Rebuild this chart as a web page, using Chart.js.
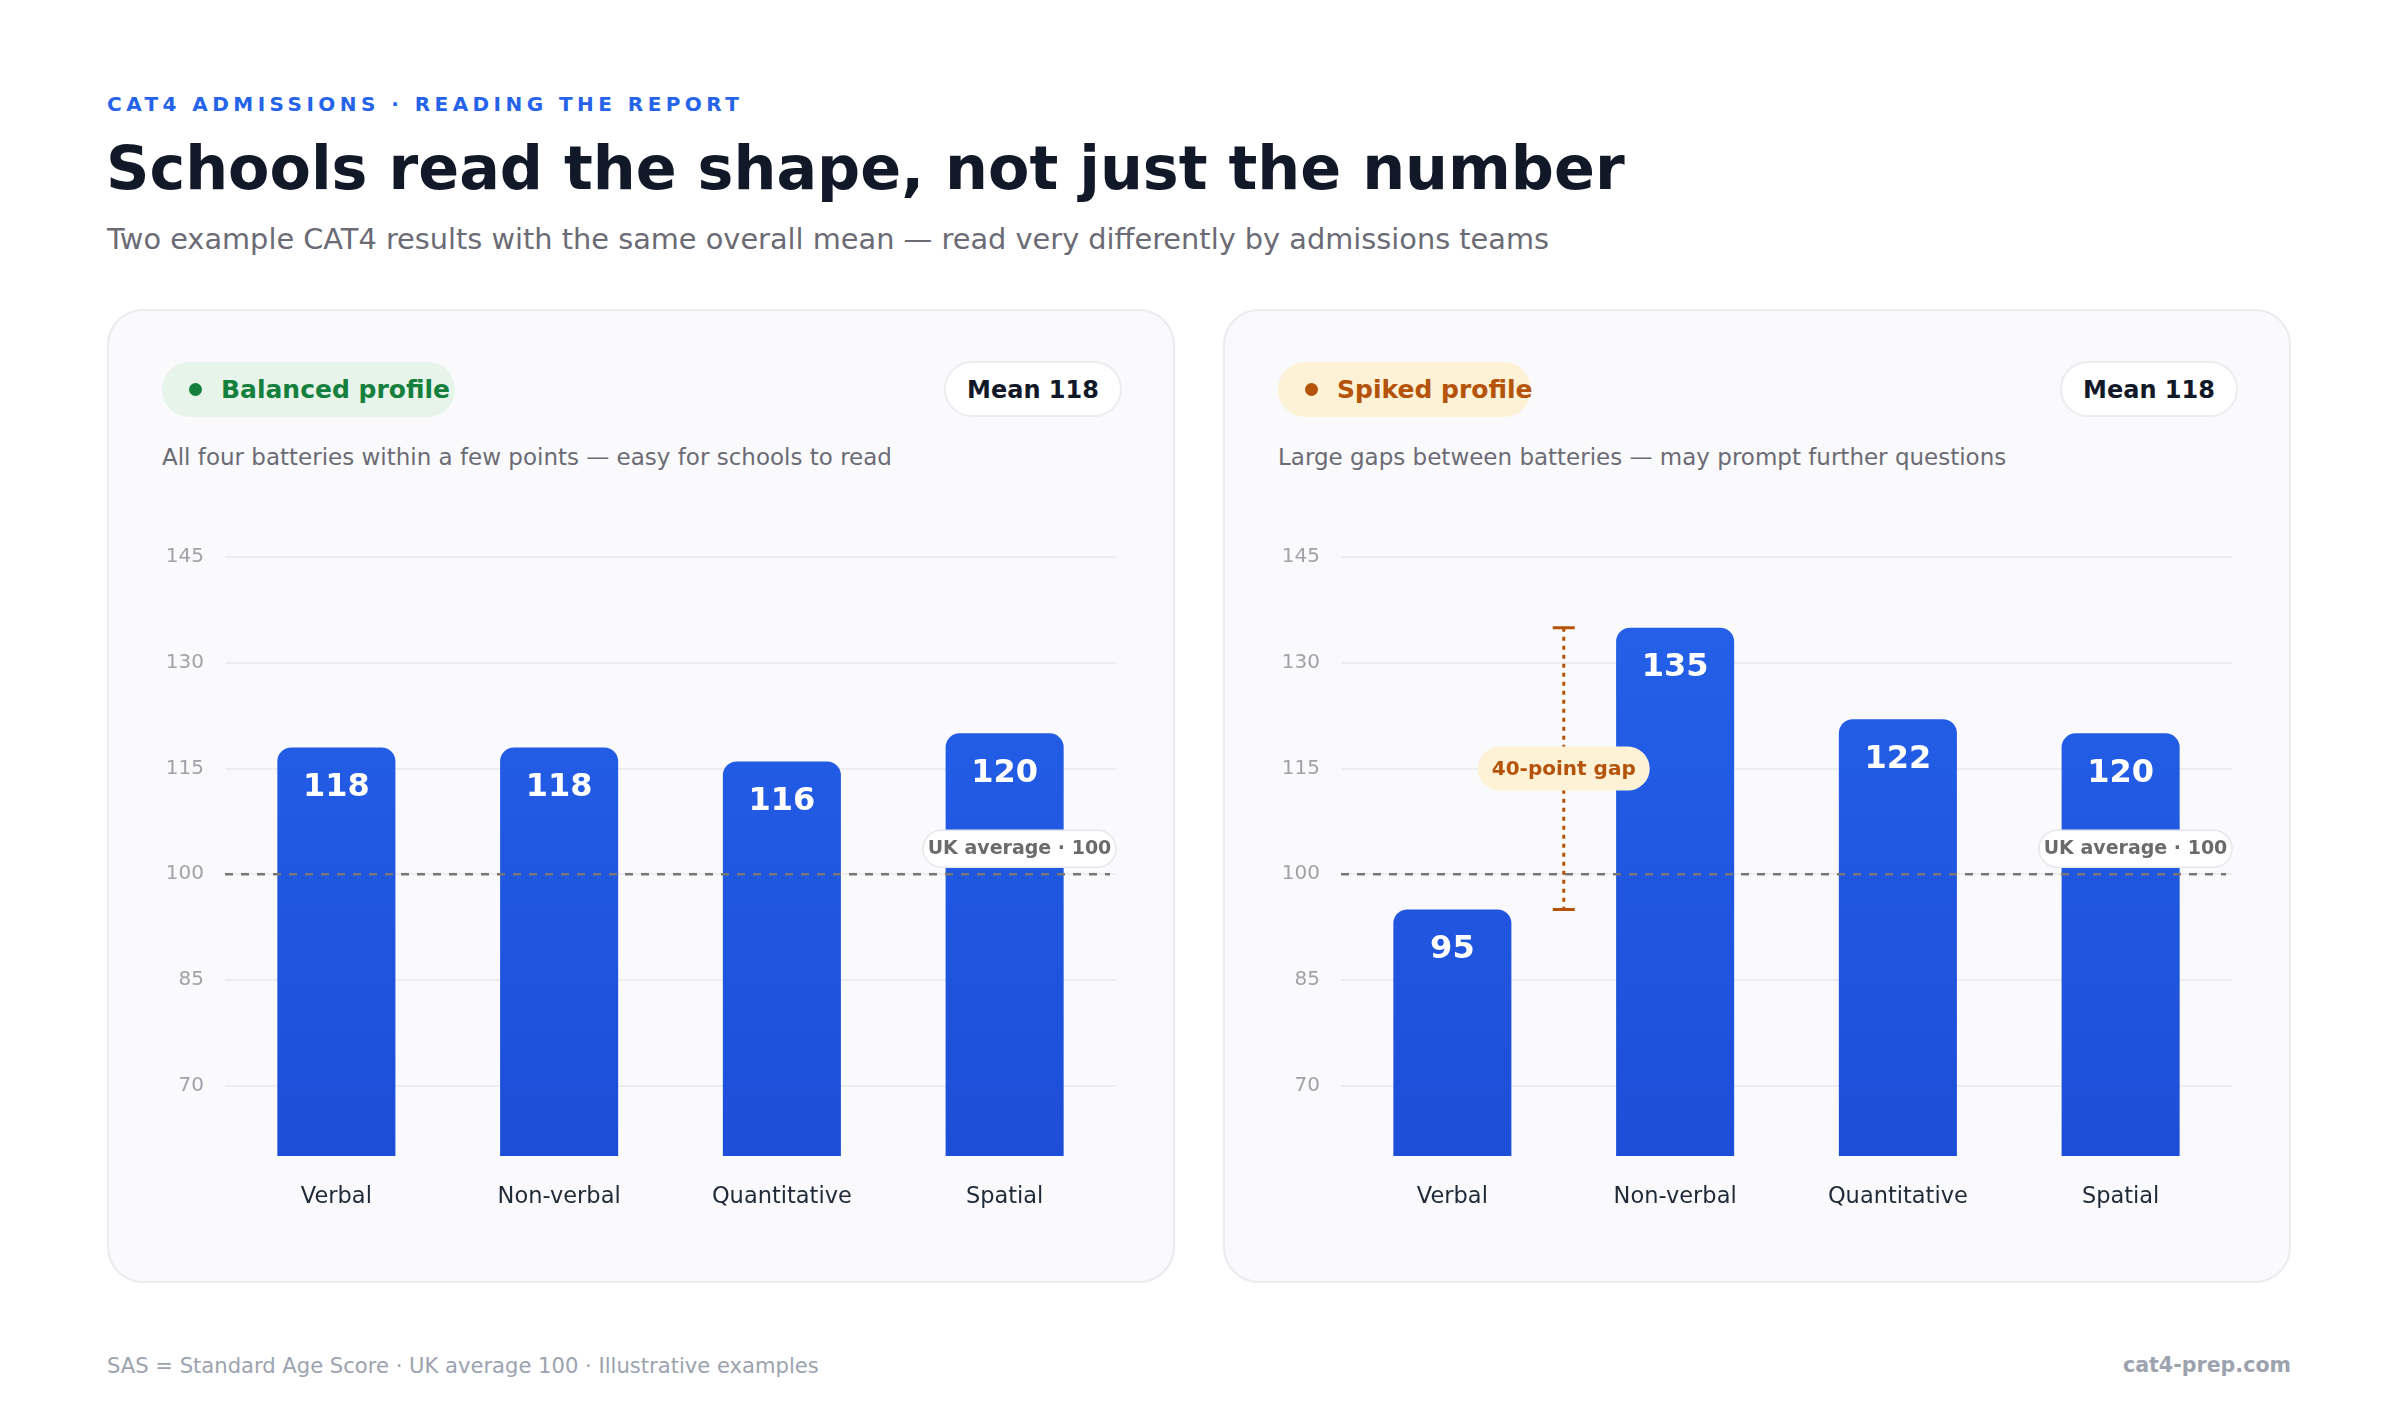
<!DOCTYPE html>
<html>
<head>
<meta charset="utf-8">
<script src="https://cdn.jsdelivr.net/npm/chart.js@4.4.1/dist/chart.umd.min.js"></script>
<style>
  body { margin: 0; width: 2400px; height: 1425px; background: #fff; font-family: "DejaVu Sans", sans-serif; position: relative; overflow: hidden; }
  .abs { position: absolute; line-height: 1; white-space: nowrap; }
  .kicker { left: 107px; top: 94px; font-size: 20px; font-weight: bold; color: #2563eb; letter-spacing: 4.45px; }
  .title { left: 106px; top: 138px; font-size: 60.3px; font-weight: bold; color: #111827; }
  .sub { left: 107px; top: 225px; font-size: 28.8px; color: #6b6b75; }
  .card { position: absolute; top: 309px; width: 1064px; height: 970px; background: #fafafc; border: 2px solid #ebebf0; border-radius: 36px; }
  .pill { position: absolute; left: 53px; top: 51px; height: 55px; border-radius: 28px; font-size: 25px; font-weight: bold; line-height: 55px; white-space: nowrap; }
  .pill .dot { position: absolute; left: 27px; top: 21px; width: 13px; height: 13px; border-radius: 50%; }
  .pill .txt { position: absolute; left: 59px; top: 0; }
  .mean { position: absolute; left: 835px; top: 50px; width: 174px; height: 52px; border: 2px solid #ececf1; background: #fff; border-radius: 28px; font-size: 24px; font-weight: bold; color: #111827; line-height: 54px; text-align: center; }
  .desc { position: absolute; left: 53px; top: 135px; font-size: 23px; color: #6b6b75; line-height: 1; white-space: nowrap; }
  .card canvas { position: absolute; left: 53px; top: 178px; }
  .foot { top: 1355px; font-size: 21.1px; color: #9ca3af; }
</style>
</head>
<body>
<div class="abs kicker">CAT4 ADMISSIONS · READING THE REPORT</div>
<div class="abs title">Schools read the shape, not just the number</div>
<div class="abs sub">Two example CAT4 results with the same overall mean — read very differently by admissions teams</div>

<div class="card" style="left:107px">
  <div class="pill" style="width:293px;background:#e6f4ea;color:#15803d"><span class="dot" style="background:#15803d"></span><span class="txt">Balanced profile</span></div>
  <div class="mean">Mean 118</div>
  <div class="desc">All four batteries within a few points — easy for schools to read</div>
  <canvas id="balanced" width="958" height="742"></canvas>
</div>

<div class="card" style="left:1223px">
  <div class="pill" style="width:253px;background:#fdf2d6;color:#b45309"><span class="dot" style="background:#b45309"></span><span class="txt">Spiked profile</span></div>
  <div class="mean">Mean 118</div>
  <div class="desc">Large gaps between batteries — may prompt further questions</div>
  <canvas id="spiked" width="958" height="742"></canvas>
</div>

<div class="abs foot" style="left:107px">SAS = Standard Age Score · UK average 100 · Illustrative examples</div>
<div class="abs foot" style="right:109px;font-weight:bold;font-size:20.6px">cat4-prep.com</div>

<script>
const categories = ['Verbal', 'Non-verbal', 'Quantitative', 'Spatial'];
const balancedScores = [118, 118, 116, 120];
const spikedScores = [95, 135, 122, 120];
const yTicks = [70, 85, 100, 115, 130, 145];
const ukAverage = 100;
const gapFrom = 0, gapTo = 1; // Verbal vs Non-verbal

const FONT = '"DejaVu Sans", sans-serif';

function pill(ctx, x, y, w, h, fill, stroke) {
  ctx.beginPath();
  ctx.roundRect(x, y, w, h, h / 2);
  ctx.fillStyle = fill;
  ctx.fill();
  if (stroke) {
    ctx.strokeStyle = stroke;
    ctx.lineWidth = 1.5;
    ctx.stroke();
  }
}

// bar values, UK average line and the gap marker
const overlays = {
  id: 'overlays',
  afterDatasetsDraw(chart, args, opts) {
    const ctx = chart.ctx;
    const area = chart.chartArea;
    const x = chart.scales.x, y = chart.scales.y;
    const data = chart.data.datasets[0].data;

    ctx.save();
    // value labels
    ctx.fillStyle = '#fff';
    ctx.font = 'bold 32px ' + FONT;
    ctx.textAlign = 'center';
    ctx.textBaseline = 'middle';
    chart.getDatasetMeta(0).data.forEach((bar, i) => {
      ctx.fillText(String(data[i]), bar.x, bar.y + 40);
    });

    // UK average
    const yAvg = y.getPixelForValue(ukAverage);
    ctx.setLineDash([8, 8]);
    ctx.strokeStyle = '#777';
    ctx.lineWidth = 2.5;
    ctx.beginPath();
    ctx.moveTo(area.left, yAvg);
    ctx.lineTo(area.right - 6, yAvg);
    ctx.stroke();
    ctx.setLineDash([]);
    pill(ctx, area.right - 193, yAvg - 44, 193, 37, '#fff', '#e5e7eb');
    ctx.fillStyle = '#6b6b6b';
    ctx.font = 'bold 19px ' + FONT;
    ctx.fillText('UK average · 100', area.right - 96.5, yAvg - 25);

    if (opts.gap) {
      const gx = (x.getPixelForValue(gapFrom) + x.getPixelForValue(gapTo)) / 2;
      const hi = Math.max(data[gapFrom], data[gapTo]);
      const lo = Math.min(data[gapFrom], data[gapTo]);
      const yTop = y.getPixelForValue(hi), yBot = y.getPixelForValue(lo);
      ctx.strokeStyle = '#b45309';
      ctx.lineWidth = 3;
      ctx.setLineDash([4, 5]);
      ctx.beginPath();
      ctx.moveTo(gx, yTop);
      ctx.lineTo(gx, yBot);
      ctx.stroke();
      ctx.setLineDash([]);
      ctx.beginPath();
      ctx.moveTo(gx - 11, yTop); ctx.lineTo(gx + 11, yTop);
      ctx.moveTo(gx - 11, yBot); ctx.lineTo(gx + 11, yBot);
      ctx.stroke();
      const ym = y.getPixelForValue((hi + lo) / 2);
      pill(ctx, gx - 86, ym - 22, 172, 44, '#fdf2d6');
      ctx.fillStyle = '#b45309';
      ctx.font = 'bold 20px ' + FONT;
      ctx.fillText((hi - lo) + '-point gap', gx, ym + 1);
    }
    ctx.restore();
  }
};

function barGradient(c) {
  const chart = c.chart;
  const a = chart.chartArea;
  if (!a) return '#2563eb';
  const g = chart.ctx.createLinearGradient(0, a.top, 0, a.bottom);
  g.addColorStop(0, '#2563eb');
  g.addColorStop(1, '#1d4ed8');
  return g;
}

function makeChart(id, scores, gap) {
  return new Chart(document.getElementById(id), {
    type: 'bar',
    data: {
      labels: categories,
      datasets: [{
        data: scores,
        backgroundColor: barGradient,
        borderRadius: 14,
        categoryPercentage: 1,
        barPercentage: 0.53
      }]
    },
    options: {
      responsive: false,
      animation: false,
      layout: { padding: { top: 0, right: 4, left: 0, bottom: 0 } },
      plugins: {
        legend: { display: false },
        tooltip: { enabled: false },
        overlays: { gap: gap }
      },
      scales: {
        x: {
          grid: { display: false, drawTicks: false },
          border: { display: false },
          ticks: { color: '#1f2937', font: { family: FONT, size: 22.5 }, padding: 28 },
          afterFit(s) { s.height = 75; }
        },
        y: {
          min: 60,
          max: 150,
          afterBuildTicks(s) { s.ticks = yTicks.map(v => ({ value: v })); },
          grid: { color: '#ededf1', lineWidth: 2, drawTicks: false },
          border: { display: false },
          ticks: { color: '#a1a1aa', font: { family: FONT, size: 20 }, padding: 21 },
          afterFit(s) { s.width = 63; }
        }
      }
    },
    plugins: [overlays]
  });
}

makeChart('balanced', balancedScores, false);
makeChart('spiked', spikedScores, true);
</script>
</body>
</html>
